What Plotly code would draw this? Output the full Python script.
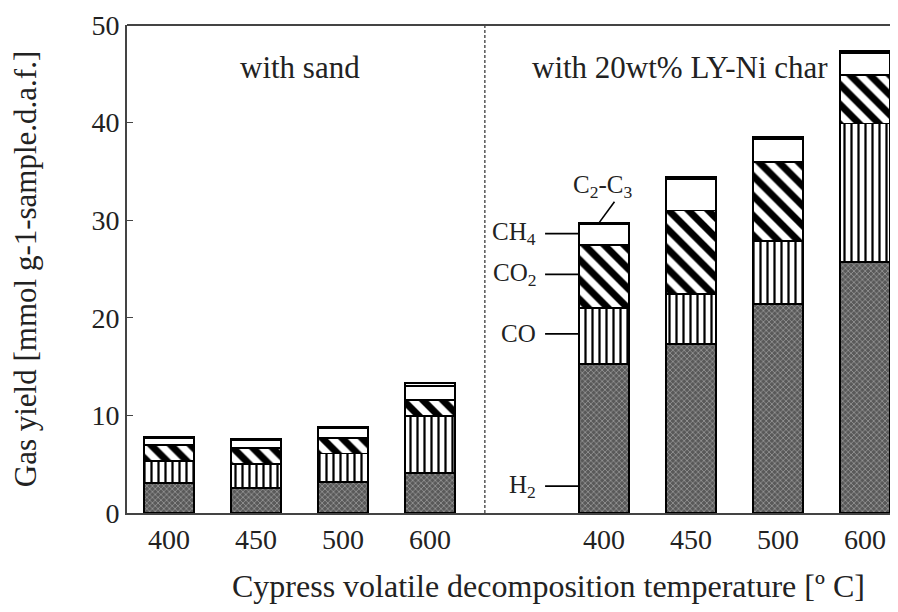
import plotly.graph_objects as go

# ---- data ----
temps = ["400", "450", "500", "600"]
sand_pos = [0, 1, 2, 3]
char_pos = [5, 6, 7, 8]

sand_H2 = [3.1, 2.6, 3.2, 4.1]
sand_CO = [2.2, 2.4, 2.9, 5.8]
sand_CO2 = [1.7, 1.7, 1.6, 1.7]
sand_CH4 = [0.65, 0.75, 0.95, 1.45]
sand_C2C3 = [0.15, 0.15, 0.15, 0.3]

char_H2 = [15.3, 17.3, 21.4, 25.7]
char_CO = [5.7, 5.1, 6.5, 14.2]
char_CO2 = [6.5, 8.6, 8.1, 5.0]
char_CH4 = [2.05, 3.25, 2.35, 2.25]
char_C2C3 = [0.15, 0.15, 0.15, 0.15]

species = ["H<sub>2</sub>", "CO", "CO<sub>2</sub>", "CH<sub>4</sub>", "C<sub>2</sub>-C<sub>3</sub>"]

FONT = "Liberation Serif, Times New Roman, serif"
BAR_W = 0.575

x_all = sand_pos + char_pos
series = [
    sand_H2 + char_H2,
    sand_CO + char_CO,
    sand_CO2 + char_CO2,
    sand_CH4 + char_CH4,
    sand_C2C3 + char_C2C3,
]
patterns = [
    dict(shape="x", bgcolor="#595959", fgcolor="#b8b8b8", fgopacity=1, size=4, solidity=0.25),
    dict(shape="|", bgcolor="white", fgcolor="black", fgopacity=1, size=7, solidity=0.32),
    dict(shape="\\", bgcolor="white", fgcolor="black", fgopacity=1, size=14, solidity=0.5),
    dict(shape="", bgcolor="white", fgcolor="white"),
    dict(shape="", bgcolor="white", fgcolor="white"),
]

fig = go.Figure()
for name, vals, pat in zip(species, series, patterns):
    fig.add_trace(go.Bar(
        x=x_all, y=vals, name=name, width=BAR_W,
        marker=dict(color=pat["bgcolor"], line=dict(color="black", width=1.8),
                    pattern=pat),
        showlegend=False,
    ))

# separator between groups
sep_x = (sand_pos[-1] + char_pos[0]) / 2 - 0.37
fig.add_shape(type="line", xref="x", yref="paper", x0=sep_x, x1=sep_x, y0=0, y1=1,
              line=dict(color="#555", width=1.5, dash="3px,2px"))
# top frame line
fig.add_shape(type="line", xref="paper", yref="paper", x0=0, x1=1, y0=1, y1=1,
              line=dict(color="#444", width=2))

# species labels pointing at the first char bar
bar_left = char_pos[0] - BAR_W / 2
line_start = bar_left - 0.39
b0 = char_H2[0]
b1 = b0 + char_CO[0]
b2 = b1 + char_CO2[0]
b3 = b2 + char_CH4[0]
b4 = b3 + char_C2C3[0]
label_y = [b0 * 0.18, (b0 + b1) / 2 + 0.2, (b1 + b2) / 2 + 0.2, (b2 + b3) / 2 + 0.1]
for name, yy in zip(species[:4], label_y):
    fig.add_shape(type="line", xref="x", yref="y", x0=line_start, x1=bar_left,
                  y0=yy, y1=yy, line=dict(color="black", width=1.6))
    fig.add_annotation(x=line_start, y=yy, xref="x", yref="y", text=name,
                       showarrow=False, xanchor="right", yanchor="middle", xshift=-7,
                       font=dict(family=FONT, size=25, color="#222"))
# C2-C3 leader
fig.add_shape(type="line", xref="x", yref="y", x0=char_pos[0] - 0.06, x1=char_pos[0] + 0.12,
              y0=b4, y1=b4 + 2.2, line=dict(color="black", width=1.6))
fig.add_annotation(x=char_pos[0] - 0.02, y=b4 + 3.8, xref="x", yref="y", text=species[4],
                   showarrow=False, xanchor="center", yanchor="middle",
                   font=dict(family=FONT, size=25, color="#222"))

# group titles
fig.add_annotation(x=sum(sand_pos) / 4, y=45.6, xref="x", yref="y", text="with sand",
                   showarrow=False, font=dict(family=FONT, size=31, color="#222"))
fig.add_annotation(x=5.87, y=45.6, xref="x", yref="y", text="with 20wt% LY-Ni char",
                   showarrow=False, font=dict(family=FONT, size=31, color="#222"))

# x-axis title (placed as annotation to match reference position)
fig.add_annotation(x=0.553, y=-0.150, xref="paper", yref="paper",
                   text="Cypress volatile decomposition temperature [º C]",
                   showarrow=False, xanchor="center", yanchor="middle",
                   font=dict(family=FONT, size=32, color="#222"))

fig.update_layout(
    barmode="stack",
    width=882, height=596,
    margin=dict(l=119, r=0, t=17, b=91),
    plot_bgcolor="white", paper_bgcolor="white",
    font=dict(family=FONT, size=28, color="#222"),
    xaxis=dict(
        range=[-0.483, 8.287], tickvals=x_all, ticktext=temps + temps,
        showline=True, linecolor="#444", linewidth=2, ticks="", showgrid=False,
        zeroline=False,
        tickfont=dict(family=FONT, size=28, color="#222"),
    ),
    yaxis=dict(
        range=[0, 50], tickvals=[0, 10, 20, 30, 40, 50],
        showline=True, linecolor="#444", linewidth=2, ticks="inside", ticklen=6,
        tickcolor="#444", showgrid=False, zeroline=False,
        title=dict(text="Gas yield [mmol g-1-sample.d.a.f.]",
                   font=dict(family=FONT, size=31, color="#222"), standoff=53),
        tickfont=dict(family=FONT, size=28, color="#222"),
    ),
)

fig.write_html("out.html")
